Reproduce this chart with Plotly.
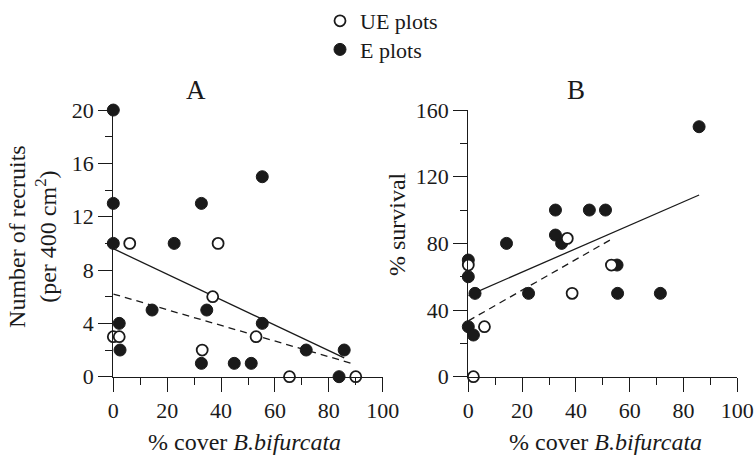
import numpy as np
import plotly.graph_objects as go

# ---------------- data ----------------
# Panel A: number of recruits vs % cover
a_ue_x = [6.1, 38.9, 36.9, 0.0, 2.2, 33.0, 53.0, 65.4, 90.0]
a_ue_y = [10, 10, 6, 3, 3, 2, 3, 0, 0]
a_e_x = [0.0, 0.0, 0.0, 2.2, 2.5, 14.4, 22.6, 32.7, 34.7, 32.7, 44.9, 51.2, 55.3, 55.3, 71.6, 85.7, 83.8]
a_e_y = [20, 13, 10, 4, 2, 5, 10, 13, 5, 1, 1, 1, 15, 4, 2, 2, 0]

# Panel B: % survival vs % cover
b_ue_x = [0.0, 36.8, 6.0, 1.9, 38.6, 53.2]
b_ue_y = [67, 83, 30, 0, 50, 67]
b_e_x = [0.0, 0.0, 0.0, 1.9, 2.5, 14.2, 22.4, 32.4, 32.4, 34.7, 45.0, 51.0, 55.3, 55.5, 71.4, 85.8]
b_e_y = [70, 60, 30, 25, 50, 80, 50, 100, 85, 80, 100, 100, 67, 50, 50, 150]

# fitted lines: intercept, slope, x start, x end
a_e_fit = [9.6, -0.0956, 0.0, 85.7]
a_ue_fit = [6.2, -0.0588, 0.0, 89.0]
b_e_fit = [48.7, 0.703, 0.0, 85.8]
b_ue_fit = [33.5, 0.921, 0.0, 53.4]

x_ticks = [0, 20, 40, 60, 80, 100]
a_y_ticks = [0, 4, 8, 12, 16, 20]
b_y_ticks = [0, 40, 80, 120, 160]

# ---------------- styling ----------------
FONT = "Liberation Serif, Times New Roman, DejaVu Serif, serif"
INK = "#1a1a1a"
W, H = 754, 455

fig = go.Figure()


def fit_line(fit, xa, ya, dash):
    b0, b1, x0, x1 = fit
    xs = np.array([x0, x1])
    ys = b0 + b1 * xs
    fig.add_trace(go.Scatter(x=xs, y=ys, mode="lines", xaxis=xa, yaxis=ya,
                             line=dict(color=INK, width=1.3, dash=dash),
                             showlegend=False, hoverinfo="skip", cliponaxis=False))


fit_line(a_e_fit, "x", "y", "solid")
fit_line(a_ue_fit, "x", "y", "7px,5px")
fit_line(b_e_fit, "x2", "y2", "solid")
fit_line(b_ue_fit, "x2", "y2", "7px,5px")

filled = dict(size=12, color=INK, line=dict(color=INK, width=1))
opened = dict(size=11, color="white", line=dict(color=INK, width=1.8))

fig.add_trace(go.Scatter(x=a_e_x, y=a_e_y, mode="markers", marker=filled, name="E plots",
                         legend="legend2", cliponaxis=False, xaxis="x", yaxis="y"))
fig.add_trace(go.Scatter(x=b_e_x, y=b_e_y, mode="markers", marker=filled, name="E plots",
                         showlegend=False, cliponaxis=False, xaxis="x2", yaxis="y2"))
fig.add_trace(go.Scatter(x=a_ue_x, y=a_ue_y, mode="markers", marker=opened, name="UE plots",
                         legend="legend", cliponaxis=False, xaxis="x", yaxis="y"))
fig.add_trace(go.Scatter(x=b_ue_x, y=b_ue_y, mode="markers", marker=opened, name="UE plots",
                         showlegend=False, cliponaxis=False, xaxis="x2", yaxis="y2"))

ydom = [1 - 376 / H, 1 - 107 / H]
axis_common = dict(showline=True, linecolor=INK, linewidth=1.4, ticks="outside", ticklen=14,
                   tickwidth=1.4, tickcolor=INK, showgrid=False, zeroline=False,
                   tickfont=dict(family=FONT, size=22, color=INK), automargin=False)

leg_common = dict(x=320 / W, xanchor="left", yanchor="middle",
                  font=dict(family=FONT, size=22, color=INK), itemsizing="trace",
                  bgcolor="rgba(0,0,0,0)")

fig.update_layout(
    template="none",
    width=W, height=H, autosize=False,
    margin=dict(l=0, r=0, t=0, b=0),
    paper_bgcolor="white", plot_bgcolor="white",
    showlegend=True,
    legend=dict(y=1 - 17 / H, **leg_common),
    legend2=dict(y=1 - 46 / H, **leg_common),
    xaxis=dict(domain=[113.3 / W, 382.7 / W], range=[0, 100], tickvals=x_ticks,
               minor=dict(dtick=10, tick0=0, ticks="outside", ticklen=7, tickwidth=1.4, tickcolor=INK),
               anchor="y", **axis_common),
    yaxis=dict(domain=ydom, range=[0, 20], tickvals=a_y_ticks,
               minor=dict(dtick=2, tick0=0, ticks="outside", ticklen=7, tickwidth=1.4, tickcolor=INK),
               anchor="x", **axis_common),
    xaxis2=dict(domain=[468.3 / W, 737.3 / W], range=[0, 100], tickvals=x_ticks,
                minor=dict(dtick=10, tick0=0, ticks="outside", ticklen=7, tickwidth=1.4, tickcolor=INK),
                anchor="y2", **axis_common),
    yaxis2=dict(domain=ydom, range=[0, 160], tickvals=b_y_ticks,
                minor=dict(dtick=20, tick0=0, ticks="outside", ticklen=7, tickwidth=1.4, tickcolor=INK),
                anchor="x2", **axis_common),
)

ann_font = dict(family=FONT, size=24, color=INK)
annotations = [
    dict(text="A", x=196 / W, y=1 - 87 / H, font=dict(family=FONT, size=27, color=INK)),
    dict(text="B", x=576 / W, y=1 - 87 / H, font=dict(family=FONT, size=27, color=INK)),
    dict(text="% cover <i>B.bifurcata</i>", x=244 / W, y=1 - 442 / H, font=ann_font),
    dict(text="% cover <i>B.bifurcata</i>", x=605 / W, y=1 - 442 / H, font=ann_font),
    dict(text="Number of recruits<br>(per 400 cm<sup>2</sup>)", x=33 / W, y=1 - 235 / H,
         textangle=-90, font=ann_font),
    dict(text="% survival", x=397 / W, y=1 - 222 / H, textangle=-90, font=ann_font),
]
for a in annotations:
    a.update(xref="paper", yref="paper", showarrow=False, xanchor="center", yanchor="middle")
fig.update_layout(annotations=annotations)

fig.write_html("out.html", config={"displayModeBar": False},
               post_script="document.body.style.margin='0';document.body.style.overflow='hidden';")
